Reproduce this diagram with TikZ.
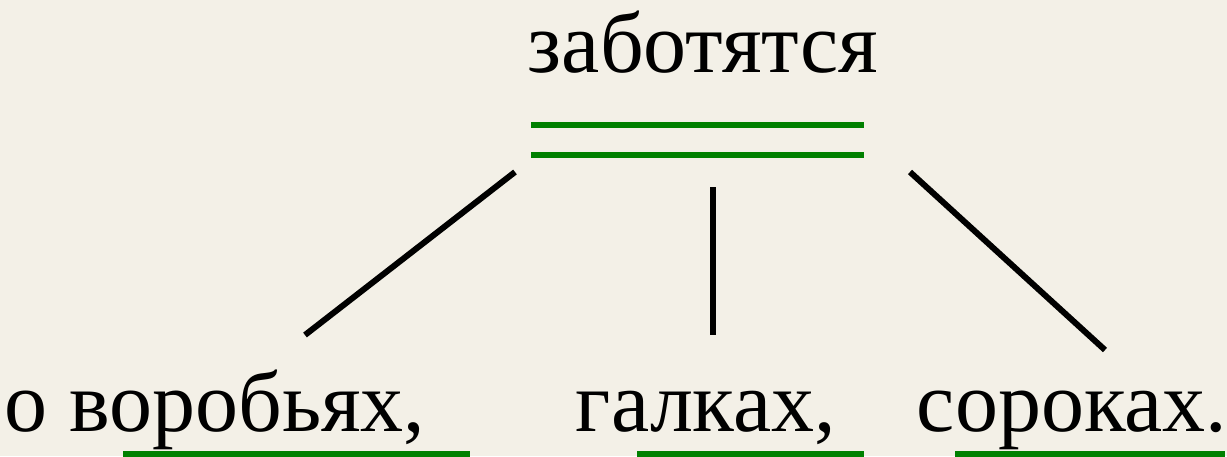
\documentclass[tikz,border=0pt]{standalone}
\usepackage{fontspec}
\setmainfont{Liberation Serif}
\usetikzlibrary{positioning}
\definecolor{paper}{RGB}{243,240,231}
\definecolor{predgreen}{RGB}{0,128,0}

\begin{document}
\begin{tikzpicture}[x=1pt, y=-1pt,
    word/.style={anchor=base, inner sep=0pt, font=\fontsize{86}{92}\selectfont},
    link/.style={line width=6pt, black},
    underl/.style={line width=6.5pt, predgreen}]
    % background
    \fill[paper] (0,0) rectangle (1227,456);
    \useasboundingbox (0,0) rectangle (1227,456);

    % predicate
    \node[word] (pred) at (703,72) {заботятся};
    \draw[underl] (531,125) -- (864,125);
    \draw[underl] (531,155) -- (864,155);

    % homogeneous members
    \node[word] (w1) at (215,431) {о воробьях,};
    \node[word] (w2) at (706,431) {галках,};
    \node[word] (w3) at (1072,431) {сороках.};
    \draw[underl] (123,454) -- (470,454);
    \draw[underl] (637,454) -- (864,454);
    \draw[underl] (955,454) -- (1225,454);

    % links
    \coordinate (a1) at (515,172);
    \coordinate (b1) at (305,335);
    \coordinate (a2) at (713,187);
    \coordinate (b2) at (713,335);
    \coordinate (a3) at (910,172);
    \coordinate (b3) at (1105,350);
    \draw[link] (a1) -- (b1);
    \draw[link] (a2) -- (b2);
    \draw[link] (a3) -- (b3);
\end{tikzpicture}
\end{document}
